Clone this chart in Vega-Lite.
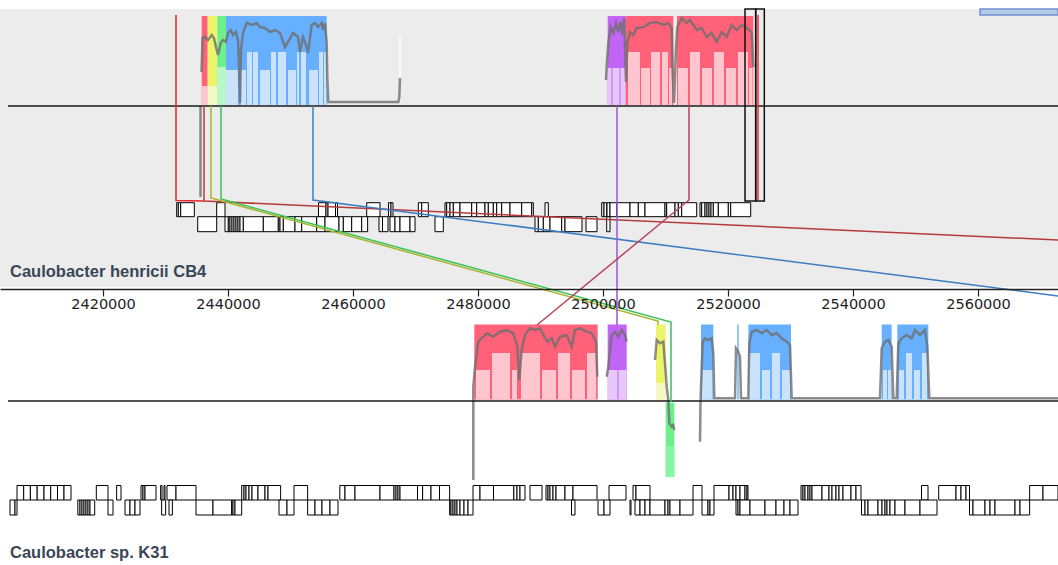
{
"$schema": "https://vega.github.io/schema/vega-lite/v6.json",
"width": 1058, "height": 565, "autosize": {"type": "none"}, "padding": 0,
"background": "white",
"config": {"view": {"stroke": null}},
"datasets": {
"panel": [{"s": 2403520, "e": 2572800, "y0": 9, "y1": 287}],
"bar": [{"s": 2560320, "e": 2572800, "y0": 9, "y1": 15}],
"blocks": [
{"s":2435790,"e":2436750,"c":"red","y0":16,"y1":105},
{"s":2436750,"e":2438290,"c":"yellow","y0":16,"y1":105},
{"s":2438290,"e":2439680,"c":"green","y0":16,"y1":105},
{"s":2439680,"e":2455790,"c":"blue","y0":16,"y1":105},
{"s":2500750,"e":2503630,"c":"purple","y0":16,"y1":105},
{"s":2503630,"e":2511250,"c":"red","y0":16,"y1":105},
{"s":2511840,"e":2524050,"c":"red","y0":16,"y1":105},
{"s":2479410,"e":2499150,"c":"red","y0":324.5,"y1":399.5},
{"s":2500750,"e":2503790,"c":"purple","y0":324.5,"y1":399.5},
{"s":2508480,"e":2510030,"c":"yellow","y0":324.5,"y1":399.5},
{"s":2510030,"e":2511410,"c":"green","y0":402.5,"y1":477},
{"s":2515680,"e":2517650,"c":"blue","y0":324.5,"y1":399.5},
{"s":2521490,"e":2521710,"c":"blue","y0":324.5,"y1":399.5},
{"s":2523250,"e":2530080,"c":"blue","y0":324.5,"y1":399.5},
{"s":2544590,"e":2546190,"c":"blue","y0":324.5,"y1":399.5},
{"s":2547090,"e":2552050,"c":"blue","y0":324.5,"y1":399.5}
],
"light": [
{"s":2435790,"e":2436750,"c":"redL","y0":86,"y1":105},
{"s":2436750,"e":2438290,"c":"yellowL","y0":86,"y1":105},
{"s":2438290,"e":2439680,"c":"greenL","y0":67,"y1":105},
{"s":2439680,"e":2441600,"c":"blueL","y0":70,"y1":105},
{"s":2442080,"e":2442880,"c":"blueL","y0":70,"y1":105},
{"s":2443040,"e":2443840,"c":"blueL","y0":52,"y1":105},
{"s":2444000,"e":2444800,"c":"blueL","y0":52,"y1":105},
{"s":2445120,"e":2446720,"c":"blueL","y0":70,"y1":105},
{"s":2446880,"e":2447680,"c":"blueL","y0":52,"y1":105},
{"s":2448000,"e":2449280,"c":"blueL","y0":52,"y1":105},
{"s":2449600,"e":2450880,"c":"blueL","y0":70,"y1":105},
{"s":2451040,"e":2451360,"c":"blueL","y0":52,"y1":105},
{"s":2451680,"e":2452480,"c":"blueL","y0":52,"y1":105},
{"s":2452960,"e":2454400,"c":"blueL","y0":70,"y1":105},
{"s":2454560,"e":2455200,"c":"blueL","y0":52,"y1":105},
{"s":2455360,"e":2455680,"c":"blueL","y0":52,"y1":105},
{"s":2500800,"e":2501360,"c":"purpleL","y0":68,"y1":105},
{"s":2501520,"e":2502640,"c":"purpleL","y0":68,"y1":105},
{"s":2502800,"e":2503600,"c":"purpleL","y0":68,"y1":105},
{"s":2504000,"e":2505920,"c":"redL","y0":52,"y1":105},
{"s":2506080,"e":2507520,"c":"redL","y0":68,"y1":105},
{"s":2507680,"e":2509120,"c":"redL","y0":52,"y1":105},
{"s":2509440,"e":2510400,"c":"redL","y0":52,"y1":105},
{"s":2510560,"e":2511040,"c":"redL","y0":68,"y1":105},
{"s":2512000,"e":2513600,"c":"redL","y0":68,"y1":105},
{"s":2513920,"e":2515520,"c":"redL","y0":52,"y1":105},
{"s":2515840,"e":2517440,"c":"redL","y0":68,"y1":105},
{"s":2517760,"e":2519360,"c":"redL","y0":52,"y1":105},
{"s":2519680,"e":2521280,"c":"redL","y0":68,"y1":105},
{"s":2521600,"e":2523200,"c":"redL","y0":52,"y1":105},
{"s":2523360,"e":2523920,"c":"redL","y0":68,"y1":105},
{"s":2479680,"e":2481920,"c":"redL","y0":370,"y1":399.5},
{"s":2482240,"e":2485120,"c":"redL","y0":353,"y1":399.5},
{"s":2485440,"e":2486240,"c":"redL","y0":370,"y1":399.5},
{"s":2486880,"e":2489920,"c":"redL","y0":353,"y1":399.5},
{"s":2490240,"e":2492480,"c":"redL","y0":370,"y1":399.5},
{"s":2492800,"e":2494720,"c":"redL","y0":353,"y1":399.5},
{"s":2495040,"e":2497120,"c":"redL","y0":370,"y1":399.5},
{"s":2497440,"e":2498880,"c":"redL","y0":353,"y1":399.5},
{"s":2500800,"e":2502320,"c":"purpleL","y0":370,"y1":399.5},
{"s":2502480,"e":2503760,"c":"purpleL","y0":370,"y1":399.5},
{"s":2508480,"e":2510030,"c":"yellowL","y0":383,"y1":399.5},
{"s":2510030,"e":2511410,"c":"greenL2","y0":446,"y1":477},
{"s":2515840,"e":2517520,"c":"blueL","y0":370,"y1":399.5},
{"s":2523360,"e":2525120,"c":"blueL","y0":353,"y1":399.5},
{"s":2525440,"e":2526720,"c":"blueL","y0":370,"y1":399.5},
{"s":2527040,"e":2528320,"c":"blueL","y0":353,"y1":399.5},
{"s":2528640,"e":2529920,"c":"blueL","y0":370,"y1":399.5},
{"s":2544800,"e":2545440,"c":"blueL","y0":370,"y1":399.5},
{"s":2545600,"e":2546080,"c":"blueL","y0":370,"y1":399.5},
{"s":2547360,"e":2548160,"c":"blueL","y0":370,"y1":399.5},
{"s":2548480,"e":2549440,"c":"blueL","y0":353,"y1":399.5},
{"s":2549760,"e":2550720,"c":"blueL","y0":370,"y1":399.5},
{"s":2551040,"e":2551840,"c":"blueL","y0":353,"y1":399.5}
],
"profile": [
{"g":"t0","x":2435600,"y":106},{"g":"t0","x":2435600,"y":197},
{"g":"t1","x":2435760,"y":72},{"g":"t1","x":2435840,"y":57},{"g":"t1","x":2435920,"y":38},{"g":"t1","x":2436320,"y":37},{"g":"t1","x":2436800,"y":40},{"g":"t1","x":2437390,"y":35},{"g":"t1","x":2437760,"y":38},{"g":"t1","x":2438080,"y":47},{"g":"t1","x":2438400,"y":55},{"g":"t1","x":2438830,"y":43},{"g":"t1","x":2439200,"y":40},{"g":"t1","x":2439680,"y":42},{"g":"t1","x":2440000,"y":33},{"g":"t1","x":2440430,"y":30},{"g":"t1","x":2440800,"y":35},{"g":"t1","x":2441280,"y":32},{"g":"t1","x":2441600,"y":40},{"g":"t1","x":2441760,"y":67},{"g":"t1","x":2441920,"y":103},{"g":"t1","x":2442080,"y":50},{"g":"t1","x":2442400,"y":33},{"g":"t1","x":2442990,"y":23},{"g":"t1","x":2443790,"y":25},{"g":"t1","x":2444590,"y":23},{"g":"t1","x":2445120,"y":27},{"g":"t1","x":2445920,"y":28},{"g":"t1","x":2446720,"y":32},{"g":"t1","x":2447520,"y":30},{"g":"t1","x":2448320,"y":33},{"g":"t1","x":2449120,"y":47},{"g":"t1","x":2449600,"y":42},{"g":"t1","x":2450400,"y":33},{"g":"t1","x":2451200,"y":37},{"g":"t1","x":2451520,"y":52},{"g":"t1","x":2452000,"y":37},{"g":"t1","x":2452590,"y":47},{"g":"t1","x":2452800,"y":53},{"g":"t1","x":2453390,"y":25},{"g":"t1","x":2453920,"y":23},{"g":"t1","x":2454400,"y":27},{"g":"t1","x":2454990,"y":23},{"g":"t1","x":2455200,"y":30},{"g":"t1","x":2455520,"y":23},{"g":"t1","x":2455790,"y":43},{"g":"t1","x":2455890,"y":77},{"g":"t1","x":2456050,"y":102},{"g":"t1","x":2467250,"y":102},{"g":"t1","x":2467410,"y":97},{"g":"t1","x":2467520,"y":78},
{"g":"t2","x":2500480,"y":80},{"g":"t2","x":2500590,"y":65},{"g":"t2","x":2500850,"y":43},{"g":"t2","x":2501230,"y":27},{"g":"t2","x":2501650,"y":33},{"g":"t2","x":2502080,"y":23},{"g":"t2","x":2502450,"y":32},{"g":"t2","x":2502830,"y":22},{"g":"t2","x":2503150,"y":35},{"g":"t2","x":2503410,"y":18},{"g":"t2","x":2503570,"y":60},{"g":"t2","x":2503680,"y":82},{"g":"t2","x":2503890,"y":43},{"g":"t2","x":2504320,"y":32},{"g":"t2","x":2504850,"y":35},{"g":"t2","x":2505390,"y":28},{"g":"t2","x":2506450,"y":27},{"g":"t2","x":2507520,"y":23},{"g":"t2","x":2508590,"y":22},{"g":"t2","x":2509650,"y":25},{"g":"t2","x":2510450,"y":23},{"g":"t2","x":2510990,"y":28},{"g":"t2","x":2511150,"y":73},{"g":"t2","x":2511360,"y":103},{"g":"t2","x":2511680,"y":50},{"g":"t2","x":2511890,"y":27},{"g":"t2","x":2512590,"y":18},{"g":"t2","x":2513390,"y":23},{"g":"t2","x":2513920,"y":20},{"g":"t2","x":2514990,"y":30},{"g":"t2","x":2515790,"y":28},{"g":"t2","x":2516590,"y":37},{"g":"t2","x":2517390,"y":33},{"g":"t2","x":2518190,"y":42},{"g":"t2","x":2518990,"y":32},{"g":"t2","x":2519790,"y":37},{"g":"t2","x":2520590,"y":25},{"g":"t2","x":2521390,"y":30},{"g":"t2","x":2522190,"y":25},{"g":"t2","x":2522990,"y":28},{"g":"t2","x":2523790,"y":32},{"g":"t2","x":2524050,"y":67},
{"g":"b1","x":2479250,"y":480},{"g":"b1","x":2479250,"y":386.7},{"g":"b1","x":2479520,"y":366.7},{"g":"b1","x":2480050,"y":341.7},{"g":"b1","x":2480590,"y":338.3},{"g":"b1","x":2481390,"y":333.3},{"g":"b1","x":2482450,"y":336.7},{"g":"b1","x":2483520,"y":331.7},{"g":"b1","x":2484590,"y":330},{"g":"b1","x":2485650,"y":333.3},{"g":"b1","x":2486290,"y":346.7},{"g":"b1","x":2486610,"y":380},{"g":"b1","x":2486990,"y":350},{"g":"b1","x":2487520,"y":335},{"g":"b1","x":2488320,"y":328.3},{"g":"b1","x":2489120,"y":330},{"g":"b1","x":2489920,"y":328.3},{"g":"b1","x":2490450,"y":335},{"g":"b1","x":2491090,"y":341.7},{"g":"b1","x":2491790,"y":338.3},{"g":"b1","x":2492320,"y":346.7},{"g":"b1","x":2493120,"y":336.7},{"g":"b1","x":2494190,"y":335},{"g":"b1","x":2494990,"y":346.7},{"g":"b1","x":2495520,"y":330},{"g":"b1","x":2496320,"y":328.3},{"g":"b1","x":2497390,"y":331.7},{"g":"b1","x":2498190,"y":333.3},{"g":"b1","x":2498880,"y":341.7},{"g":"b1","x":2499090,"y":376.7},
{"g":"b2","x":2500590,"y":376.7},{"g":"b2","x":2500850,"y":366.7},{"g":"b2","x":2501390,"y":335},{"g":"b2","x":2501920,"y":331.7},{"g":"b2","x":2502450,"y":336.7},{"g":"b2","x":2502990,"y":330},{"g":"b2","x":2503520,"y":335},{"g":"b2","x":2503790,"y":341.7},
{"g":"b3","x":2508320,"y":360},{"g":"b3","x":2508590,"y":340},{"g":"b3","x":2509120,"y":343.3},{"g":"b3","x":2509650,"y":341.7},{"g":"b3","x":2509920,"y":363.3},{"g":"b3","x":2510190,"y":386.7},{"g":"b3","x":2510450,"y":400},{"g":"b3","x":2510610,"y":423.3},{"g":"b3","x":2510990,"y":426.7},{"g":"b3","x":2511250,"y":425},{"g":"b3","x":2511410,"y":430},
{"g":"b4","x":2515520,"y":441.7},{"g":"b4","x":2515600,"y":401},{"g":"b4","x":2515680,"y":386.7},{"g":"b4","x":2515950,"y":341.7},{"g":"b4","x":2516320,"y":338.3},{"g":"b4","x":2516850,"y":340},{"g":"b4","x":2517390,"y":338.3},{"g":"b4","x":2517650,"y":353.3},{"g":"b4","x":2517810,"y":398.3},{"g":"b4","x":2521120,"y":398.3},{"g":"b4","x":2521280,"y":348.3},{"g":"b4","x":2521650,"y":351.7},{"g":"b4","x":2521920,"y":356.7},{"g":"b4","x":2522080,"y":398.3},{"g":"b4","x":2523250,"y":398.3},{"g":"b4","x":2523410,"y":343.3},{"g":"b4","x":2523790,"y":331.7},{"g":"b4","x":2524590,"y":330},{"g":"b4","x":2525390,"y":333.3},{"g":"b4","x":2526190,"y":330},{"g":"b4","x":2526990,"y":335},{"g":"b4","x":2527790,"y":333.3},{"g":"b4","x":2528590,"y":338.3},{"g":"b4","x":2529390,"y":341.7},{"g":"b4","x":2529920,"y":345},{"g":"b4","x":2530190,"y":398.3},{"g":"b4","x":2544320,"y":398.3},{"g":"b4","x":2544590,"y":348.3},{"g":"b4","x":2545120,"y":341.7},{"g":"b4","x":2545650,"y":340},{"g":"b4","x":2546190,"y":346.7},{"g":"b4","x":2546450,"y":398.3},{"g":"b4","x":2546990,"y":398.3},{"g":"b4","x":2547250,"y":343.3},{"g":"b4","x":2547790,"y":338.3},{"g":"b4","x":2548590,"y":335},{"g":"b4","x":2549390,"y":338.3},{"g":"b4","x":2549920,"y":330},{"g":"b4","x":2550720,"y":335},{"g":"b4","x":2551520,"y":330},{"g":"b4","x":2551890,"y":346.7},{"g":"b4","x":2552210,"y":398.3},{"g":"b4","x":2572800,"y":398.3}
],
"links": [
{"g":"redBright","x":2431680,"y":15},{"g":"redBright","x":2431680,"y":200.5},{"g":"redBright","x":2436160,"y":201},
{"g":"redLong","x":2436160,"y":106},{"g":"redLong","x":2436160,"y":201},{"g":"redLong","x":2572800,"y":240},
{"g":"blue","x":2453600,"y":106},{"g":"blue","x":2453600,"y":200},{"g":"blue","x":2572800,"y":296},
{"g":"olive","x":2437280,"y":106},{"g":"olive","x":2437280,"y":198},{"g":"olive","x":2508800,"y":321},{"g":"olive","x":2508800,"y":325},
{"g":"green","x":2438880,"y":106},{"g":"green","x":2438880,"y":199},{"g":"green","x":2510880,"y":322},{"g":"green","x":2510880,"y":402},
{"g":"purple","x":2502240,"y":106},{"g":"purple","x":2502240,"y":325},
{"g":"redDiag","x":2513760,"y":106},{"g":"redDiag","x":2513760,"y":200},{"g":"redDiag","x":2489440,"y":325},
{"g":"redBright2","x":2524800,"y":15},{"g":"redBright2","x":2524800,"y":200},
{"g":"white","x":2467520,"y":35},{"g":"white","x":2467520,"y":78}
],
"lanes": [
{"l":"t1","y0":202.7,"y1":216.7},{"l":"t2","y0":216.7,"y1":231.7},
{"l":"b1","y0":485.5,"y1":500},{"l":"b2","y0":500,"y1":515}
],
"genes": [
{"l":"t1","s":2431790,"e":2432050},{"l":"t1","s":2432050,"e":2432430},{"l":"t1","s":2432430,"e":2434610},
{"l":"t1","s":2438190,"e":2439520},
{"l":"t1","s":2454480,"e":2455680},{"l":"t1","s":2455680,"e":2456000},{"l":"t1","s":2456000,"e":2457200},{"l":"t1","s":2457200,"e":2457520},
{"l":"t1","s":2462190,"e":2464320},
{"l":"t1","s":2465680,"e":2466080},{"l":"t1","s":2466080,"e":2466400},
{"l":"t1","s":2470450,"e":2470990},{"l":"t1","s":2470990,"e":2472050},
{"l":"t1","s":2474720,"e":2474990},{"l":"t1","s":2474990,"e":2475520},{"l":"t1","s":2475520,"e":2476050},{"l":"t1","s":2476050,"e":2477120},{"l":"t1","s":2477120,"e":2478990},{"l":"t1","s":2478990,"e":2479790},{"l":"t1","s":2479790,"e":2481120},{"l":"t1","s":2481120,"e":2481650},{"l":"t1","s":2481650,"e":2482450},{"l":"t1","s":2482450,"e":2482990},{"l":"t1","s":2482990,"e":2483790},{"l":"t1","s":2483790,"e":2485120},{"l":"t1","s":2485120,"e":2486990},{"l":"t1","s":2486990,"e":2488590},{"l":"t1","s":2488590,"e":2488850},
{"l":"t1","s":2490720,"e":2491250},
{"l":"t1","s":2499790,"e":2500160},{"l":"t1","s":2500160,"e":2500590},
{"l":"t1","s":2500640,"e":2501120},{"l":"t1","s":2501120,"e":2502190},{"l":"t1","s":2502190,"e":2504320},{"l":"t1","s":2504320,"e":2505650},{"l":"t1","s":2505650,"e":2506720},{"l":"t1","s":2506720,"e":2509920},{"l":"t1","s":2509920,"e":2510190},{"l":"t1","s":2510190,"e":2511520},{"l":"t1","s":2511520,"e":2512050},{"l":"t1","s":2512050,"e":2512590},{"l":"t1","s":2512590,"e":2514990},
{"l":"t1","s":2515520,"e":2515790},{"l":"t1","s":2515790,"e":2516320},{"l":"t1","s":2516320,"e":2516640},{"l":"t1","s":2516640,"e":2516960},{"l":"t1","s":2516960,"e":2517280},{"l":"t1","s":2517280,"e":2517650},{"l":"t1","s":2517650,"e":2518450},{"l":"t1","s":2518450,"e":2520050},{"l":"t1","s":2520050,"e":2520430},{"l":"t1","s":2520430,"e":2523630},
{"l":"t2","s":2435150,"e":2438190},
{"l":"t2","s":2439520,"e":2440050},{"l":"t2","s":2440050,"e":2440320},{"l":"t2","s":2440320,"e":2440640},{"l":"t2","s":2440640,"e":2440960},{"l":"t2","s":2440960,"e":2441280},{"l":"t2","s":2441280,"e":2441600},{"l":"t2","s":2441600,"e":2441920},{"l":"t2","s":2441920,"e":2442450},{"l":"t2","s":2442450,"e":2445650},{"l":"t2","s":2445650,"e":2448050},{"l":"t2","s":2448050,"e":2448320},{"l":"t2","s":2448320,"e":2448850},{"l":"t2","s":2448850,"e":2450720},{"l":"t2","s":2450720,"e":2451790},{"l":"t2","s":2451790,"e":2454190},{"l":"t2","s":2454190,"e":2455520},{"l":"t2","s":2455520,"e":2457760},
{"l":"t2","s":2457760,"e":2458450},{"l":"t2","s":2458450,"e":2459790},{"l":"t2","s":2459790,"e":2461390},{"l":"t2","s":2461390,"e":2462340},
{"l":"t2","s":2464160,"e":2464720},{"l":"t2","s":2464720,"e":2465600},
{"l":"t2","s":2465920,"e":2466720},{"l":"t2","s":2466720,"e":2467520},{"l":"t2","s":2467520,"e":2469120},{"l":"t2","s":2469120,"e":2469920},
{"l":"t2","s":2473120,"e":2474450},
{"l":"t2","s":2489120,"e":2489650},{"l":"t2","s":2489650,"e":2490450},{"l":"t2","s":2490450,"e":2491520},{"l":"t2","s":2491520,"e":2493390},{"l":"t2","s":2493390,"e":2493920},{"l":"t2","s":2493920,"e":2496640},
{"l":"t2","s":2497280,"e":2499040},
{"l":"t2","s":2500590,"e":2501120},
{"l":"b1","s":2406240,"e":2407310},{"l":"b1","s":2407310,"e":2408380},{"l":"b1","s":2408380,"e":2409470},{"l":"b1","s":2409470,"e":2410560},{"l":"b1","s":2410560,"e":2411630},{"l":"b1","s":2411630,"e":2412720},{"l":"b1","s":2412720,"e":2413760},{"l":"b1","s":2413760,"e":2414880},
{"l":"b1","s":2418930,"e":2420800},
{"l":"b1","s":2422180,"e":2422880},
{"l":"b1","s":2426080,"e":2426400},{"l":"b1","s":2426400,"e":2426720},{"l":"b1","s":2426720,"e":2428480},
{"l":"b1","s":2429220,"e":2429440},{"l":"b1","s":2429760,"e":2429920},{"l":"b1","s":2430240,"e":2431680},{"l":"b1","s":2431680,"e":2434880},
{"l":"b1","s":2442190,"e":2442560},{"l":"b1","s":2442560,"e":2442880},{"l":"b1","s":2442880,"e":2443360},{"l":"b1","s":2443360,"e":2443840},{"l":"b1","s":2443840,"e":2444800},{"l":"b1","s":2444800,"e":2445920},{"l":"b1","s":2445920,"e":2446400},{"l":"b1","s":2446400,"e":2448420},
{"l":"b1","s":2450560,"e":2452740},
{"l":"b1","s":2457890,"e":2458720},{"l":"b1","s":2458720,"e":2460320},{"l":"b1","s":2460320,"e":2464320},{"l":"b1","s":2464320,"e":2466560},{"l":"b1","s":2466560,"e":2466880},{"l":"b1","s":2466880,"e":2467200},{"l":"b1","s":2467200,"e":2467520},{"l":"b1","s":2467520,"e":2470320},{"l":"b1","s":2470320,"e":2471140},{"l":"b1","s":2471140,"e":2472480},{"l":"b1","s":2472480,"e":2473840},{"l":"b1","s":2473840,"e":2475460},
{"l":"b1","s":2479200,"e":2480320},{"l":"b1","s":2480320,"e":2482480},{"l":"b1","s":2482480,"e":2485730},{"l":"b1","s":2485730,"e":2486240},{"l":"b1","s":2486240,"e":2486720},{"l":"b1","s":2486720,"e":2487520},
{"l":"b1","s":2488320,"e":2490240},
{"l":"b1","s":2490880,"e":2491200},{"l":"b1","s":2491200,"e":2491520},{"l":"b1","s":2491520,"e":2492000},{"l":"b1","s":2492000,"e":2492480},{"l":"b1","s":2492480,"e":2493920},{"l":"b1","s":2493920,"e":2495200},{"l":"b1","s":2495200,"e":2499040},
{"l":"b1","s":2500960,"e":2503680},
{"l":"b1","s":2504800,"e":2505280},{"l":"b1","s":2505280,"e":2507520},
{"l":"b1","s":2514400,"e":2515840},
{"l":"b1","s":2517760,"e":2520160},{"l":"b1","s":2520160,"e":2520800},{"l":"b1","s":2520800,"e":2521280},{"l":"b1","s":2521280,"e":2521920},{"l":"b1","s":2521920,"e":2522720},{"l":"b1","s":2522720,"e":2523040},{"l":"b1","s":2523040,"e":2523200},
{"l":"b1","s":2531680,"e":2532000},{"l":"b1","s":2532000,"e":2532320},{"l":"b1","s":2532320,"e":2532800},{"l":"b1","s":2532800,"e":2533120},{"l":"b1","s":2533120,"e":2533440},{"l":"b1","s":2533440,"e":2535040},{"l":"b1","s":2535040,"e":2536160},{"l":"b1","s":2536160,"e":2536640},{"l":"b1","s":2536640,"e":2537280},{"l":"b1","s":2537280,"e":2537760},{"l":"b1","s":2537760,"e":2538400},{"l":"b1","s":2538400,"e":2539680},{"l":"b1","s":2539680,"e":2540480},{"l":"b1","s":2540480,"e":2541280},
{"l":"b1","s":2550960,"e":2552000},
{"l":"b1","s":2553710,"e":2556480},{"l":"b1","s":2556480,"e":2557280},{"l":"b1","s":2557280,"e":2558080},{"l":"b1","s":2558080,"e":2558640},
{"l":"b1","s":2568260,"e":2570400},{"l":"b1","s":2570400,"e":2572800},
{"l":"b2","s":2405120,"e":2405920},{"l":"b2","s":2405920,"e":2406240},
{"l":"b2","s":2415970,"e":2416320},{"l":"b2","s":2416320,"e":2416640},{"l":"b2","s":2416640,"e":2416960},{"l":"b2","s":2416960,"e":2417280},{"l":"b2","s":2417280,"e":2417600},{"l":"b2","s":2417600,"e":2417920},{"l":"b2","s":2417920,"e":2418670},
{"l":"b2","s":2420800,"e":2421600},
{"l":"b2","s":2423520,"e":2424320},{"l":"b2","s":2424320,"e":2425120},{"l":"b2","s":2425120,"e":2425920},
{"l":"b2","s":2429380,"e":2430020},{"l":"b2","s":2430560,"e":2431100},
{"l":"b2","s":2434880,"e":2437600},{"l":"b2","s":2437600,"e":2440580},{"l":"b2","s":2440580,"e":2440800},{"l":"b2","s":2440800,"e":2441120},{"l":"b2","s":2441120,"e":2442190},
{"l":"b2","s":2448160,"e":2449440},{"l":"b2","s":2449440,"e":2450560},
{"l":"b2","s":2452740,"e":2453920},{"l":"b2","s":2453920,"e":2455040},{"l":"b2","s":2455040,"e":2456320},{"l":"b2","s":2456320,"e":2457600},
{"l":"b2","s":2475460,"e":2475680},{"l":"b2","s":2475680,"e":2476000},{"l":"b2","s":2476000,"e":2476320},{"l":"b2","s":2476320,"e":2476640},{"l":"b2","s":2476640,"e":2477120},{"l":"b2","s":2477120,"e":2477760},{"l":"b2","s":2477760,"e":2478400},{"l":"b2","s":2478400,"e":2479200},
{"l":"b2","s":2494960,"e":2495520},
{"l":"b2","s":2499200,"e":2500160},{"l":"b2","s":2500160,"e":2501120},
{"l":"b2","s":2504320,"e":2504480},
{"l":"b2","s":2505120,"e":2505920},{"l":"b2","s":2505920,"e":2506720},{"l":"b2","s":2506720,"e":2507520},{"l":"b2","s":2507520,"e":2509920},{"l":"b2","s":2509920,"e":2510400},{"l":"b2","s":2510400,"e":2510720},{"l":"b2","s":2510720,"e":2512320},{"l":"b2","s":2512320,"e":2514400},
{"l":"b2","s":2515840,"e":2516800},{"l":"b2","s":2516800,"e":2517120},{"l":"b2","s":2517120,"e":2517760},
{"l":"b2","s":2521280,"e":2521600},{"l":"b2","s":2521600,"e":2521920},{"l":"b2","s":2521920,"e":2523520},{"l":"b2","s":2523520,"e":2525920},{"l":"b2","s":2525920,"e":2527680},{"l":"b2","s":2527680,"e":2528960},{"l":"b2","s":2528960,"e":2529920},{"l":"b2","s":2529920,"e":2531200},
{"l":"b2","s":2541360,"e":2541920},{"l":"b2","s":2541920,"e":2542400},{"l":"b2","s":2542400,"e":2544000},{"l":"b2","s":2544000,"e":2544640},{"l":"b2","s":2544640,"e":2545120},{"l":"b2","s":2545120,"e":2545440},{"l":"b2","s":2545440,"e":2545920},{"l":"b2","s":2545920,"e":2546720},{"l":"b2","s":2546720,"e":2548320},{"l":"b2","s":2548320,"e":2550720},{"l":"b2","s":2550720,"e":2553440},
{"l":"b2","s":2558640,"e":2559200},{"l":"b2","s":2559200,"e":2561120},{"l":"b2","s":2561120,"e":2561920},{"l":"b2","s":2561920,"e":2562720},{"l":"b2","s":2562720,"e":2565920},{"l":"b2","s":2565920,"e":2566720},{"l":"b2","s":2566720,"e":2568260}
],
"sel": [{"s":2522720,"e":2524430,"y0":9,"y1":201},{"s":2524430,"e":2525810,"y0":9,"y1":201}],
"centers": [{"s":2404800,"e":2572800,"y":106},{"s":2404800,"e":2572800,"y":401}],
"names": [{"x":2405120,"y":277,"t":"Caulobacter henricii CB4"},{"x":2405120,"y":558,"t":"Caulobacter sp. K31"}]
},
"layer": [
{"data":{"name":"panel"},"mark":{"type":"rect","color":"#ececec"},
 "encoding":{
  "x":{"field":"s","type":"quantitative","title":null,"scale":{"domain":[2403520,2572800],"nice":false,"zero":false},
   "axis":{"orient":"bottom","offset":-276,"values":[2420000,2440000,2460000,2480000,2500000,2520000,2540000,2560000],"format":"d","title":null,"grid":false,"domainColor":"#222222","domainWidth":1.5,"tickColor":"#222222","tickSize":7,"tickWidth":1.2,"labelFont":"DejaVu Sans","labelFontSize":14.5,"labelColor":"#1e1e1e","labelPadding":1,"labelOverlap":false,"labelFlush":false,"labelBound":false,"zindex":1}},
  "x2":{"field":"e"},
  "y":{"field":"y0","type":"quantitative","scale":{"domain":[0,565],"reverse":true,"nice":false,"zero":false},"axis":null},
  "y2":{"field":"y1"}}},
{"data":{"name":"blocks"},"mark":{"type":"rect"},
 "encoding":{
  "x":{"field":"s","type":"quantitative","title":null},"x2":{"field":"e"},
  "y":{"field":"y0","type":"quantitative","axis":null},"y2":{"field":"y1"},
  "fill":{"field":"c","type":"nominal","legend":null,"scale":{"domain":["red","yellow","green","blue","purple","redL","yellowL","greenL","greenL2","blueL","purpleL"],"range":["#ff6179","#ecf56a","#6cf08c","#66b0ff","#c264f5","#ffc6d0","#f3f8c4","#b8f7c8","#86f6a6","#cbe2fb","#e6c8fb"]}}}},
{"data":{"name":"light"},"mark":{"type":"rect"},
 "encoding":{
  "x":{"field":"s","type":"quantitative","title":null},"x2":{"field":"e"},
  "y":{"field":"y0","type":"quantitative","axis":null},"y2":{"field":"y1"},
  "fill":{"field":"c","type":"nominal","legend":null}}},
{"data":{"name":"profile"},"mark":{"type":"line","color":"#6f6f6f","opacity":0.8,"strokeWidth":2.5,"clip":true},
 "encoding":{
  "x":{"field":"x","type":"quantitative","title":null},
  "y":{"field":"y","type":"quantitative","axis":null},
  "detail":{"field":"g"},"order":{"value":null}}},
{"data":{"name":"centers"},"mark":{"type":"rule","color":"#1a1a1a","strokeWidth":1.5},
 "encoding":{
  "x":{"field":"s","type":"quantitative","title":null},"x2":{"field":"e"},
  "y":{"field":"y","type":"quantitative","axis":null}}},
{"data":{"name":"genes"},
 "transform":[{"lookup":"l","from":{"data":{"name":"lanes"},"key":"l","fields":["y0","y1"]}}],
 "mark":{"type":"rect","fill":"white","stroke":"black","strokeWidth":1,"clip":true},
 "encoding":{
  "x":{"field":"s","type":"quantitative","title":null},"x2":{"field":"e"},
  "y":{"field":"y0","type":"quantitative","axis":null},"y2":{"field":"y1"}}},
{"data":{"name":"links"},"mark":{"type":"line","strokeWidth":1.5,"clip":true},
 "encoding":{
  "x":{"field":"x","type":"quantitative","title":null},
  "y":{"field":"y","type":"quantitative","axis":null},
  "stroke":{"field":"g","type":"nominal","legend":null,"scale":{"domain":["redBright","redBright2","redLong","blue","olive","green","purple","redDiag","white"],"range":["#e8262a","#ee3030","#b43c3c","#3d7dc2","#a9b52a","#3cbf5c","#9b55d4","#b8465a","#ffffff"]}},
  "order":{"value":null}}},
{"data":{"name":"sel"},"mark":{"type":"rect","fill":null,"fillOpacity":0,"stroke":"#111111","strokeWidth":1.5},
 "encoding":{
  "x":{"field":"s","type":"quantitative","title":null},"x2":{"field":"e"},
  "y":{"field":"y0","type":"quantitative","axis":null},"y2":{"field":"y1"}}},
{"data":{"name":"bar"},"mark":{"type":"rect","fill":"#b4cbe8","stroke":"#6f8fcf","strokeWidth":1.5},
 "encoding":{
  "x":{"field":"s","type":"quantitative","title":null},"x2":{"field":"e"},
  "y":{"field":"y0","type":"quantitative","axis":null},"y2":{"field":"y1"}}},
{"data":{"name":"names"},"mark":{"type":"text","align":"left","baseline":"alphabetic","font":"Liberation Sans","fontWeight":"bold","fontSize":16.5,"color":"#3a4656"},
 "encoding":{
  "x":{"field":"x","type":"quantitative","title":null},
  "y":{"field":"y","type":"quantitative","axis":null},
  "text":{"field":"t"}}}
]
}
